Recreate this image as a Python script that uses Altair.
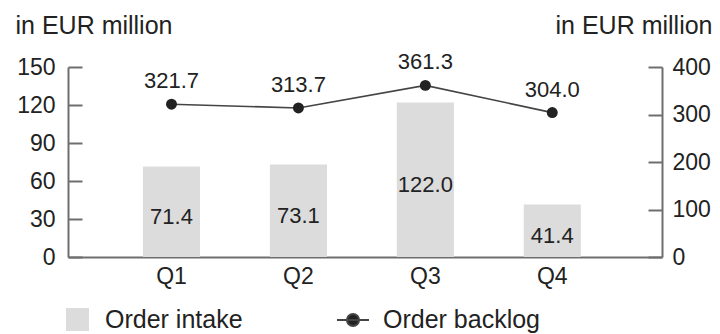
import altair as alt
import pandas as pd

quarters = ["Q1", "Q2", "Q3", "Q4"]
order_intake = [71.4, 73.1, 122.0, 41.4]
order_backlog = [321.7, 313.7, 361.3, 304.0]
series_names = ["Order intake", "Order backlog"]
left_ticks = [0, 30, 60, 90, 120, 150]
right_ticks = [0, 100, 200, 300, 400]
axis_title = "in EUR million"

df = pd.DataFrame({
    "quarter": quarters,
    "intake": order_intake,
    "backlog": order_backlog,
    "s1": series_names[0],
    "s2": series_names[1],
})

FONT = "Liberation Sans"
TXT = "#222222"
AX = "#6e6e6e"
BAR = "#dcdcdc"

x = alt.X(
    "quarter:N", sort=quarters, title=None,
    scale=alt.Scale(paddingInner=0.55, paddingOuter=0.615, align=0.48),
    axis=alt.Axis(labelAngle=0, ticks=False, domainColor=AX, domainWidth=2,
                  labelFontSize=23, labelPadding=8, labelColor=TXT, labelFont=FONT),
)


def yl_scale():
    return alt.Scale(domain=[0, 150], nice=False, zero=True)


def yr_scale():
    return alt.Scale(domain=[0, 400], nice=False, zero=True)


base = alt.Chart(df)

bars = base.mark_bar().encode(
    x=x,
    y=alt.Y("intake:Q", scale=yl_scale(), axis=alt.Axis(
        orient="left", values=left_ticks, ticks=False, domainColor=AX, domainWidth=2,
        labelPadding=13, labelFontSize=23, labelColor=TXT, labelFont=FONT,
        title=axis_title, titleAngle=0, titleAlign="left", titleBaseline="alphabetic",
        titleX=-53, titleY=-34, titleFontSize=25, titleFontWeight="normal",
        titleColor=TXT, titleFont=FONT)),
    color=alt.Color("s1:N", scale=alt.Scale(domain=[series_names[0]], range=[BAR]),
                    legend=alt.Legend(orient="none", legendX=-3, legendY=240, title=None,
                                      symbolType="square", symbolSize=529, symbolStrokeWidth=0,
                                      labelFontSize=25, labelOffset=15, labelColor=TXT,
                                      labelFont=FONT, padding=0)),
)

bar_text = base.transform_calculate(mid="datum.intake / 2").mark_text(
    fontSize=22, font=FONT, color=TXT, baseline="middle", dy=5
).encode(
    x=x,
    y=alt.Y("mid:Q", scale=yl_scale(), axis=alt.Axis(
        orient="left", values=left_ticks, domain=False, labels=False, ticks=True,
        tickSize=14, tickColor=AX, tickWidth=2, offset=-14, title=None)),
    text=alt.Text("intake:Q", format=".1f"),
)

left_layer = alt.layer(bars, bar_text).resolve_axis(y="independent")

line_sym = "M-1,0H1M-0.375,0A0.375,0.375,0,1,0,0.375,0A0.375,0.375,0,1,0,-0.375,0Z"

line = base.mark_line(strokeWidth=1.6).encode(
    x=x,
    y=alt.Y("backlog:Q", scale=yr_scale(), axis=alt.Axis(
        orient="right", values=right_ticks, ticks=False, domainColor=AX, domainWidth=2,
        labelPadding=10, labelFontSize=23, labelColor=TXT, labelFont=FONT,
        title=axis_title, titleAngle=0, titleAlign="right", titleBaseline="alphabetic",
        titleX=50, titleY=-34, titleFontSize=25, titleFontWeight="normal",
        titleColor=TXT, titleFont=FONT)),
    stroke=alt.Stroke("s2:N", scale=alt.Scale(domain=[series_names[1]], range=["#444444"]),
                      legend=alt.Legend(orient="none", legendX=268, legendY=236, title=None,
                                        symbolType=line_sym, symbolSize=1024,
                                        symbolStrokeWidth=2, symbolFillColor="#222222",
                                        labelFontSize=25, labelOffset=13, labelColor=TXT,
                                        labelFont=FONT, padding=0)),
)

points = base.mark_point(filled=True, size=120, color="#222222", opacity=1).encode(
    x=x,
    y=alt.Y("backlog:Q", scale=yr_scale(), axis=alt.Axis(
        orient="right", values=right_ticks, domain=False, labels=False, ticks=True,
        tickSize=14, tickColor=AX, tickWidth=2, offset=-14, title=None)),
)

line_text = base.mark_text(fontSize=22, font=FONT, color=TXT, baseline="middle", dy=-23).encode(
    x=x,
    y=alt.Y("backlog:Q", scale=yr_scale(), axis=None),
    text=alt.Text("backlog:Q", format=".1f"),
)

right_layer = alt.layer(line, points, line_text).resolve_axis(y="independent")

chart = alt.layer(left_layer, right_layer).resolve_scale(
    y="independent", color="independent", stroke="independent"
).properties(
    width=594, height=190,
    autosize=alt.AutoSizeParams(type="none"),
    padding={"left": 68, "top": 67, "right": 58, "bottom": 77},
).configure_view(stroke=None).configure_axis(grid=False)

chart.save("out.html", embed_options={"renderer": "svg", "actions": False})
